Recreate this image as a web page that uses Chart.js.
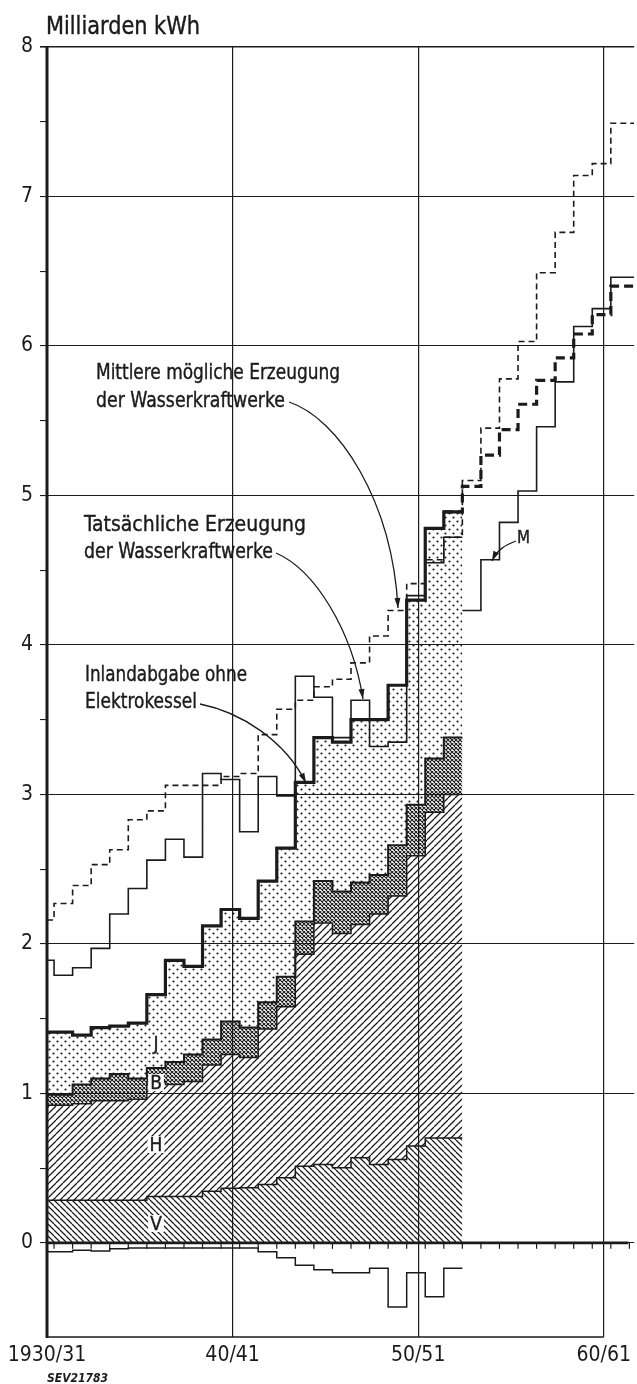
<!DOCTYPE html>
<html lang="de">
<head>
<meta charset="utf-8">
<title>Erzeugung und Inlandabgabe der Wasserkraftwerke</title>
<script src="https://cdn.jsdelivr.net/npm/chart.js@4.4.1/dist/chart.umd.min.js"></script>
<style>
  html, body { margin: 0; padding: 0; background: #fff; }
  #rahmen { position: relative; width: 637px; height: 1384px; }
</style>
</head>
<body>
<div id="rahmen"><canvas id="grafik"></canvas></div>
<script>
// =============================================
//  Daten (Milliarden kWh), Index 0 = 1930/31
// =============================================

// Achsenbeschriftung (Jahresindex -> Text)
const JAHRE_ACHSE  = [0, 10, 20, 30];
const JAHRE_LABELS = ["1930/31", "40/41", "50/51", "60/61"];
const Y_TICKS      = [0, 0.5, 1, 1.5, 2, 2.5, 3, 3.5, 4, 4.5, 5, 5.5, 6, 6.5, 7, 7.5, 8];

// Flächen 1930/31 .. 1952/53 (jeweils Oberkante)
const ANTEIL_V = [0.285, 0.285, 0.285, 0.285, 0.285, 0.285, 0.31, 0.31, 0.31, 0.345, 0.365, 0.368,
                  0.39, 0.435, 0.513, 0.524, 0.502, 0.569, 0.524, 0.557, 0.647, 0.702, 0.702];
const ANTEIL_H = [0.92, 0.92, 0.93, 0.95, 0.95, 0.96, 1.08, 1.06, 1.08, 1.19, 1.26, 1.24,
                  1.43, 1.58, 1.93, 2.14, 2.07, 2.13, 2.20, 2.32, 2.59, 2.88, 3.00];
const ANTEIL_B = [0.99, 0.99, 1.06, 1.10, 1.13, 1.10, 1.17, 1.21, 1.26, 1.36, 1.48, 1.44,
                  1.61, 1.78, 2.15, 2.42, 2.35, 2.41, 2.46, 2.66, 2.93, 3.24, 3.38];
// Inlandabgabe ohne Elektrokessel (= Oberkante J)
const INLANDABGABE = [1.41, 1.41, 1.39, 1.44, 1.45, 1.47, 1.66, 1.89, 1.85, 2.12, 2.23, 2.17,
                      2.42, 2.64, 3.08, 3.38, 3.35, 3.50, 3.50, 3.73, 4.30, 4.78, 4.89];
// Tatsächliche Erzeugung der Wasserkraftwerke
const TATSAECHLICH = [1.89, 1.79, 1.84, 1.97, 2.20, 2.37, 2.56, 2.70, 2.58, 3.14, 3.10, 2.75,
                      3.12, 2.99, 3.79, 3.65, 3.38, 3.63, 3.32, 3.35, 4.33, 4.55, 4.72];
// Mittlere mögliche Erzeugung, 1930/31 .. 1961/62
const MITTLERE = [2.16, 2.27, 2.39, 2.53, 2.63, 2.83, 2.89, 3.06, 3.06, 3.06, 3.12, 3.14,
                  3.40, 3.57, 3.63, 3.72, 3.77, 3.88, 4.06, 4.23, 4.41, 4.57, 4.72,
                  5.10, 5.45, 5.78, 6.03, 6.49, 6.76, 7.14, 7.22, 7.49];
// Vorausschätzung 1953/54 .. 1961/62
const PROGNOSE_INLAND = [5.06, 5.27, 5.44, 5.61, 5.77, 5.92, 6.08, 6.21, 6.40];
const PROGNOSE_M      = [4.23, 4.57, 4.82, 5.03, 5.46, 5.76, 6.13, 6.25, 6.46];
// Werte unter der Nulllinie
const SALDO = [-0.06, -0.06, -0.05, -0.055, -0.04, -0.035, -0.035, -0.035, -0.035, -0.035, -0.035, -0.035,
               -0.06, -0.10, -0.15, -0.18, -0.20, -0.20, -0.17, -0.43, -0.20, -0.36, -0.17];

const START_PROGNOSE = 23;

// =============================================
//  Geometrie der Treppen
// =============================================
const KANTE = 0.38;    // Jahresgrenze relativ zur Beschriftung
const X_MAX = 31.64;
const Y_MIN = -0.63;
const Y_MAX = 8;

const SCHRIFT = '"DejaVu Sans Condensed", "DejaVu Sans", sans-serif';
const TINTE   = "#1b1b1b";

// Treppenpunkte: jeder Wert gilt ein Jahr lang
function treppe(werte, start = 0) {
  const punkte = werte.map((v, i) => ({ x: Math.max(0, start + i - 1 + KANTE), y: v }));
  const ende = start + werte.length - 1 + KANTE;
  punkte.push({ x: ende >= 31 ? X_MAX : ende, y: werte[werte.length - 1] });
  return punkte;
}

// Schraffuren als CanvasPattern
function muster(typ) {
  const c = document.createElement("canvas");
  const s = { rueck: 6, vor: 7, kreuz: 4, punkte: 8 }[typ];
  c.width = c.height = s;
  const g = c.getContext("2d");
  g.strokeStyle = TINTE;
  g.fillStyle   = TINTE;
  g.lineWidth   = typ === "kreuz" ? 1.1 : 1.25;
  g.beginPath();
  for (const o of [-s, 0, s]) {
    if (typ === "rueck" || typ === "kreuz") { g.moveTo(o, 0); g.lineTo(o + s, s); }
    if (typ === "vor"   || typ === "kreuz") { g.moveTo(o, s); g.lineTo(o + s, 0); }
  }
  g.stroke();
  if (typ === "punkte") {
    g.beginPath();
    g.arc(1.5, 1.5, 1.1, 0, Math.PI * 2);
    g.arc(5.5, 5.5, 1.1, 0, Math.PI * 2);
    g.fill();
  }
  return g.createPattern(c, "repeat");
}

function linie(ctx, x1, y1, x2, y2) {
  ctx.beginPath(); ctx.moveTo(x1, y1); ctx.lineTo(x2, y2); ctx.stroke();
}

// Text auf eine Breite gebracht (hohe, schmale Schablonenschrift)
function text(ctx, t, x, y, breite) {
  const w = ctx.measureText(t).width;
  ctx.save();
  ctx.translate(x, y);
  ctx.scale(breite / w, 1);
  ctx.fillText(t, 0, 0);
  ctx.lineWidth = 0.4;
  ctx.strokeText(t, 0, 0);
  ctx.restore();
}

function buchstabe(ctx, t, x, y) {
  const w = ctx.measureText(t).width;
  ctx.save();
  ctx.fillStyle = "#fff";
  ctx.fillRect(x - w / 2 - 2, y - 15, w + 4, 17);
  ctx.restore();
  ctx.fillText(t, x, y);
  ctx.lineWidth = 0.4;
  ctx.strokeText(t, x, y);
}

function pfeil(ctx, p0, p1, p2, p3) {
  ctx.beginPath();
  ctx.moveTo(p0[0], p0[1]);
  ctx.bezierCurveTo(p1[0], p1[1], p2[0], p2[1], p3[0], p3[1]);
  ctx.stroke();
  const w = Math.atan2(p3[1] - p2[1], p3[0] - p2[0]);
  const l = 10, b = 3;
  ctx.beginPath();
  ctx.moveTo(p3[0], p3[1]);
  ctx.lineTo(p3[0] - l * Math.cos(w) + b * Math.sin(w), p3[1] - l * Math.sin(w) - b * Math.cos(w));
  ctx.lineTo(p3[0] - l * Math.cos(w) - b * Math.sin(w), p3[1] - l * Math.sin(w) + b * Math.cos(w));
  ctx.closePath();
  ctx.fill();
}

// Rahmen, Beschriftungen und Pfeile
const beschriftung = {
  id: "beschriftung",
  afterDraw(chart) {
    const { ctx, chartArea: a, scales: { x, y } } = chart;
    const y0 = y.getPixelForValue(0);
    ctx.save();
    ctx.strokeStyle = TINTE;
    ctx.fillStyle   = TINTE;

    ctx.lineWidth = 3;
    linie(ctx, a.left, a.top - 1, a.left, a.bottom + 1);
    ctx.lineWidth = 2.6;
    linie(ctx, a.left, y0, a.right - 6, y0);
    ctx.lineWidth = 1.2;
    for (let j = 0; j < 32; j++) {
      const px = x.getPixelForValue(j + KANTE);
      linie(ctx, px, y0, px, y0 + 6);
    }
    ctx.lineWidth = 1.6;
    linie(ctx, a.left, a.bottom, x.getPixelForValue(30), a.bottom);

    ctx.textBaseline = "alphabetic";
    ctx.textAlign = "left";
    ctx.font = `25px ${SCHRIFT}`;
    text(ctx, "Milliarden kWh", 46, 34, 154);

    ctx.font = `22px ${SCHRIFT}`;
    text(ctx, "Mittlere mögliche Erzeugung", 96, 379, 244);
    text(ctx, "der Wasserkraftwerke", 96, 407, 189);
    text(ctx, "Tatsächliche Erzeugung", 84, 531, 222);
    text(ctx, "der Wasserkraftwerke", 84, 558, 189);
    text(ctx, "Inlandabgabe ohne", 85, 681, 162);
    text(ctx, "Elektrokessel", 85, 708, 112);

    ctx.font = `18px ${SCHRIFT}`;
    text(ctx, "M", 517, 543, 13);
    ctx.textAlign = "center";
    ctx.font = `19px ${SCHRIFT}`;
    buchstabe(ctx, "J", 156, 1050);
    buchstabe(ctx, "B", 156, 1089);
    buchstabe(ctx, "H", 156, 1151);
    buchstabe(ctx, "V", 156, 1230);

    ctx.textAlign = "left";
    ctx.font = `italic bold 12px ${SCHRIFT}`;
    ctx.fillText("SEV21783", 47, 1382);

    ctx.lineWidth = 1.3;
    pfeil(ctx, [289, 402], [338, 418], [392, 500], [398, 608]);
    pfeil(ctx, [276, 553], [315, 570], [352, 630], [363, 699]);
    pfeil(ctx, [200, 704], [240, 712], [285, 740], [306, 783]);
    pfeil(ctx, [516, 541], [505, 545], [497, 550], [492, 561]);
    ctx.restore();
  },
};

// =============================================
//  Diagramm
// =============================================
const canvas = document.getElementById("grafik");

new Chart(canvas, {
  type: "line",
  data: {
    datasets: [
      {
        label: "V",
        data: treppe(ANTEIL_V),
        borderColor: TINTE,
        borderWidth: 1.5,
        backgroundColor: muster("rueck"),
        fill: "origin",
      },
      {
        label: "H",
        data: treppe(ANTEIL_H),
        borderColor: TINTE,
        borderWidth: 1.5,
        backgroundColor: muster("vor"),
        fill: "-1",
      },
      {
        label: "B",
        data: treppe(ANTEIL_B),
        borderColor: TINTE,
        borderWidth: 2,
        backgroundColor: muster("kreuz"),
        fill: "-1",
      },
      {
        label: "Inlandabgabe ohne Elektrokessel",
        data: treppe(INLANDABGABE),
        borderColor: TINTE,
        borderWidth: 3.2,
        backgroundColor: muster("punkte"),
        fill: "-1",
      },
      {
        label: "Tatsächliche Erzeugung",
        data: treppe(TATSAECHLICH),
        borderColor: TINTE,
        borderWidth: 1.6,
        fill: false,
      },
      {
        label: "Mittlere mögliche Erzeugung",
        data: treppe(MITTLERE),
        borderColor: TINTE,
        borderWidth: 1.6,
        borderDash: [6, 4],
        fill: false,
      },
      {
        label: "M",
        data: treppe(PROGNOSE_M, START_PROGNOSE),
        borderColor: TINTE,
        borderWidth: 1.6,
        fill: false,
      },
      {
        label: "Inlandabgabe (Schätzung)",
        data: treppe([INLANDABGABE[INLANDABGABE.length - 1], ...PROGNOSE_INLAND], START_PROGNOSE - 1),
        borderColor: TINTE,
        borderWidth: 3.2,
        borderDash: [9, 5],
        fill: false,
      },
      {
        label: "Saldo",
        data: treppe(SALDO),
        borderColor: TINTE,
        borderWidth: 1.5,
        fill: false,
      },
    ],
  },
  options: {
    responsive:          true,
    maintainAspectRatio: false,
    animation:           false,
    layout: { padding: { top: 47, right: 0, bottom: 0, left: 0 } },
    elements: {
      point: { radius: 0 },
      line:  { tension: 0, stepped: "before", borderCapStyle: "butt", borderJoinStyle: "miter" },
    },
    plugins: {
      legend:  { display: false },
      tooltip: { enabled: false },
    },
    scales: {
      x: {
        type: "linear",
        min:  0,
        max:  X_MAX,
        afterFit: s => { s.height = 47; },
        afterBuildTicks: s => { s.ticks = JAHRE_ACHSE.map(v => ({ value: v })); },
        ticks: {
          callback: v => JAHRE_LABELS[JAHRE_ACHSE.indexOf(v)],
          color: TINTE,
          font: { family: SCHRIFT, size: 21 },
          padding: 6,
          maxRotation: 0,
          autoSkip: false,
        },
        grid: {
          color: c => (c.tick && c.tick.value === 0 ? "rgba(0,0,0,0)" : TINTE),
          lineWidth: 1.2,
          drawTicks: false,
        },
        border: { display: false },
      },
      y: {
        type: "linear",
        min:  Y_MIN,
        max:  Y_MAX,
        afterFit: s => { s.width = 47; },
        afterBuildTicks: s => { s.ticks = Y_TICKS.map(v => ({ value: v })); },
        ticks: {
          callback: v => (Number.isInteger(v) ? String(v) : ""),
          color: TINTE,
          font: { family: SCHRIFT, size: 21 },
          padding: 7,
        },
        grid: {
          color: c => (c.tick && Number.isInteger(c.tick.value) ? TINTE : "rgba(0,0,0,0)"),
          tickColor: TINTE,
          lineWidth: c => (c.tick && c.tick.value === 8 ? 1.6 : 1.1),
          tickLength: 7,
        },
        border: { display: false },
      },
    },
  },
  plugins: [beschriftung],
});
</script>
</body>
</html>
